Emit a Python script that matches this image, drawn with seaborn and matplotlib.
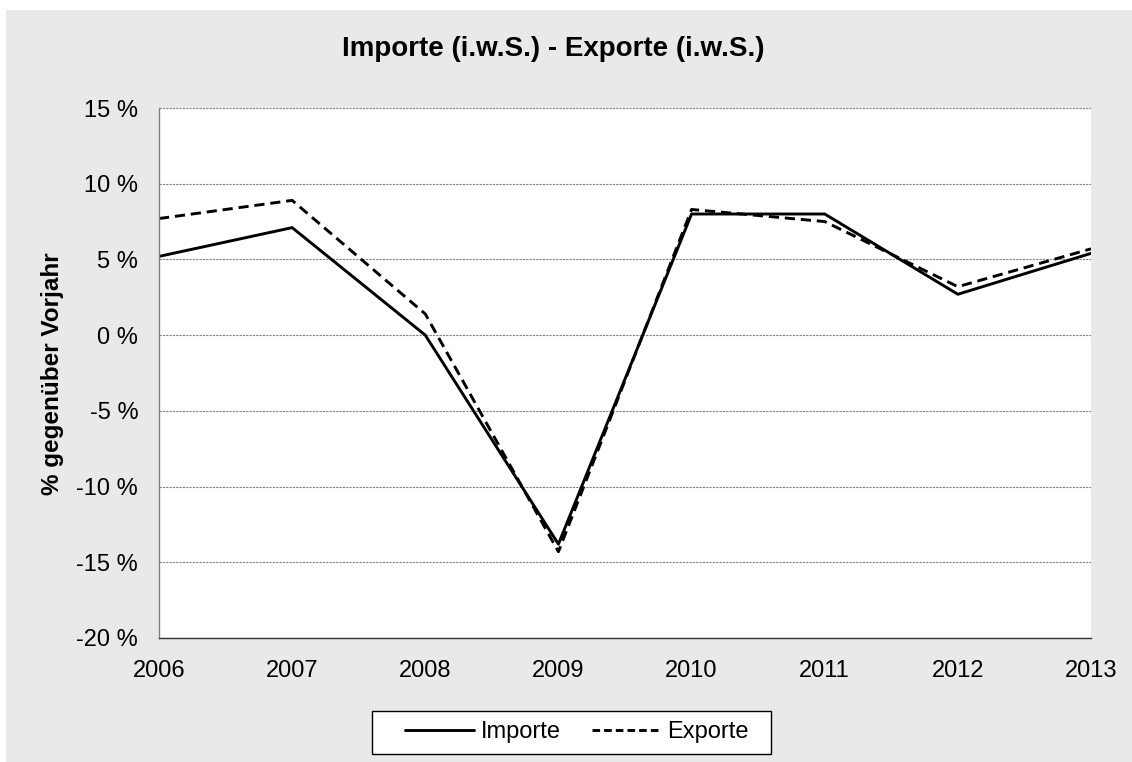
import pandas as pd
import matplotlib
matplotlib.use("Agg")
import matplotlib.pyplot as plt
import seaborn as sns
from matplotlib.patches import Rectangle
from matplotlib.lines import Line2D

# data
years = [2006, 2007, 2008, 2009, 2010, 2011, 2012, 2013]
importe = [5.2, 7.1, 0.0, -13.8, 8.0, 8.0, 2.7, 5.4]
exporte = [7.7, 8.9, 1.4, -14.3, 8.3, 7.5, 3.2, 5.7]
series_names = ['Importe', 'Exporte']
y_ticks = [-20, -15, -10, -5, 0, 5, 10, 15]

df = pd.DataFrame({'Jahr': years * 2,
                   'Wert': importe + exporte,
                   'Serie': [series_names[0]] * len(years) + [series_names[1]] * len(years)})

sns.set_theme(style='white')
plt.rcParams['font.family'] = ['Liberation Sans', 'DejaVu Sans']
plt.rcParams['text.color'] = 'black'

W, H = 1132, 762
fig = plt.figure(figsize=(W / 100, H / 100), dpi=100)
fig.patch.set_facecolor('white')
# grey chart area (leaves a thin white margin at left/top like the original)
fig.patches.append(Rectangle((6 / W, 0), 1, 1 - 10 / H, transform=fig.transFigure,
                             facecolor='#e9e9e9', edgecolor='none', zorder=-10))

ax = fig.add_axes([159 / W, 1 - 638 / H, 932 / W, 530 / H])
ax.set_facecolor('white')

DASH = (3.5, 2)
sns.lineplot(data=df, x='Jahr', y='Wert', style='Serie', color='black',
             dashes={'Importe': '', 'Exporte': DASH}, linewidth=2.1,
             legend=False, ax=ax)

ax.set_xlim(2006, 2013)
ax.set_ylim(-20, 15)
ax.set_xticks(years)
ax.set_xticklabels([str(y) for y in years], fontsize=17)
ax.set_yticks(y_ticks)
ax.set_yticklabels([f'{t} %' for t in y_ticks], fontsize=17)
ax.set_xlabel('')
ax.set_ylabel('')

ax.yaxis.grid(True, color='#808080', linestyle=(0, (2, 1)), linewidth=0.8)
ax.xaxis.grid(False)
for side in ['top', 'right']:
    ax.spines[side].set_visible(False)
ax.spines['left'].set_color('#808080')
ax.spines['left'].set_linewidth(1.0)
ax.spines['bottom'].set_color('#333333')
ax.spines['bottom'].set_linewidth(1.0)
ax.tick_params(axis='y', direction='out', length=5, width=1, color='#808080',
               labelcolor='black', pad=10)
ax.tick_params(axis='x', direction='inout', length=9, width=1, color='#333333',
               labelcolor='black', pad=11)

fig.text(553 / W, 1 - 49 / H, 'Importe (i.w.S.) - Exporte (i.w.S.)',
         ha='center', va='center', fontsize=20, fontweight='bold')
fig.text(53 / W, 1 - 374 / H, '% gegenüber Vorjahr', rotation=90,
         ha='center', va='center', fontsize=17.5, fontweight='bold')

# legend box drawn separately so the inner margins match the original
fig.patches.append(Rectangle((372 / W, 1 - 754 / H), 399 / W, 43 / H, transform=fig.transFigure,
                             facecolor='white', edgecolor='black', linewidth=1.0, zorder=1))
handles = [Line2D([0], [0], color='black', linewidth=2.1),
           Line2D([0], [0], color='black', linewidth=2.1, dashes=(2.6, 1.4))]
leg = fig.legend(handles, series_names, loc='center', bbox_to_anchor=(577 / W, 1 - 732 / H),
                 ncol=2, fontsize=17, frameon=False, handlelength=2.9,
                 columnspacing=1.3, borderpad=0.3, handletextpad=0.3, borderaxespad=0)
leg.set_zorder(2)

fig.savefig('out.png', dpi=100)
